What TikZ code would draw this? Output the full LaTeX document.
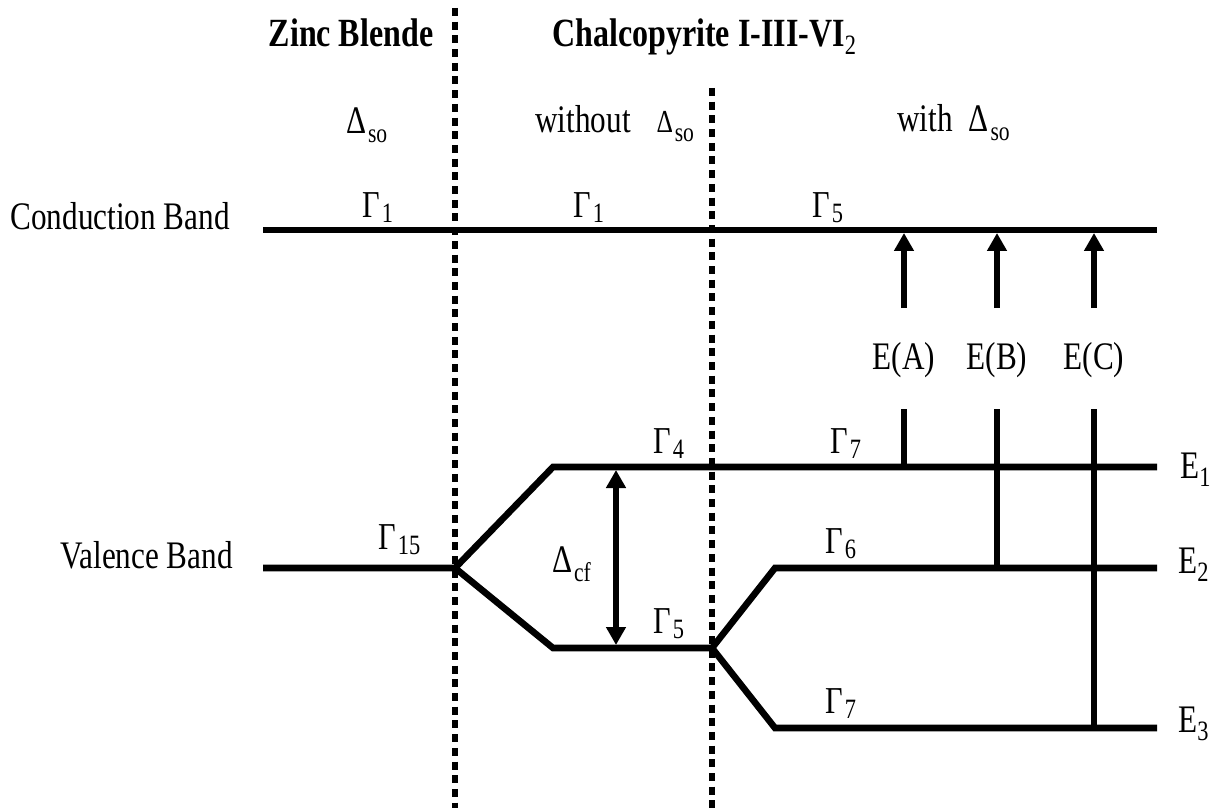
\documentclass[tikz,border=0pt]{standalone}
\usepackage{fontspec}
\setmainfont{Liberation Serif}[FakeStretch=0.80]
\usepackage{tikz}
\usetikzlibrary{arrows.meta}

% band labels
\newcommand{\glab}[1]{{\fontsize{19}{20}\selectfont Γ\kern1pt\raisebox{-2.5pt}{\fontsize{14}{16}\selectfont #1}}}
\newcommand{\dlab}[2][19.5]{{\fontsize{#1}{20}\selectfont Δ\kern0.8pt\raisebox{-4.5pt}{\fontsize{13.5}{15}\selectfont #2}}}

\begin{document}
\begin{tikzpicture}[x=0.5pt, y=-0.5pt, >={Triangle[length=9pt,width=9.5pt]},
    band/.style={line width=3.3pt, line cap=butt},
    guide/.style={line width=3.4pt, dash pattern=on 4pt off 2.85pt},
    txt/.style={anchor=base west, inner sep=0pt, font=\fontsize{19.5}{22}\selectfont},
    title/.style={txt, font=\fontsize{20}{22}\selectfont\bfseries}]
  \useasboundingbox (0,0) rectangle (1228,808);

  % separating lines
  \coordinate (d1t) at (455,8);   \coordinate (d1b) at (455,808);
  \coordinate (d2t) at (712,88);  \coordinate (d2b) at (712,808);
  \draw[guide] (d1t) -- (d1b);
  \draw[guide] (d2t) -- (d2b);

  % levels
  \coordinate (cbL) at (263,230); \coordinate (cbR) at (1157,230);
  \coordinate (vbL) at (263,568); \coordinate (z15) at (455,568);
  \coordinate (g4L) at (553,467); \coordinate (e1R) at (1157,467);
  \coordinate (g5L) at (553,648); \coordinate (g5R) at (712,648);
  \coordinate (g6L) at (775,568); \coordinate (e2R) at (1157,568);
  \coordinate (g7L) at (775,728); \coordinate (e3R) at (1157,728);
  \draw[band] (cbL) -- (cbR);
  \draw[band] (vbL) -- (z15) -- (g4L) -- (e1R);
  \draw[band] (z15) -- (g5L) -- (g5R) -- (g6L) -- (e2R);
  \draw[band] (g5R) -- (g7L) -- (e3R);

  % crystal field splitting
  \coordinate (cfT) at (616,470); \coordinate (cfB) at (616,645);
  \draw[band, <->] (cfT) -- (cfB);

  % transitions
  \foreach \n/\x/\y in {A/904/467, B/997/568, C/1094/728}{
    \coordinate (t\n) at (\x,308);
    \coordinate (h\n) at (\x,233);
    \coordinate (s\n) at (\x,409);
    \coordinate (b\n) at (\x,\y);
    \draw[band, ->] (t\n) -- (h\n);
    \draw[band] (s\n) -- (b\n);
    \node[txt, anchor=base] (l\n) at (\x,370) {E(\n)};
  }

  % headings
  \node[title, anchor=base] (zb) at (351,47) {Zinc Blende};
  \node[title] (cp) at (552,47) {Chalcopyrite I-III-VI\raisebox{-4pt}{\fontsize{14}{16}\selectfont\mdseries 2}};
  \node[txt] (so1) at (346,134) {\dlab{so}};
  \node[txt] (so2) at (535,133) {without\hspace{13pt}\dlab[16]{so}};
  \node[txt] (so3) at (897,132) {with\hspace{8pt}\dlab{so}};

  % band names
  \node[txt] (cb) at (10,229) {Conduction Band};
  \node[txt] (vb) at (60,568) {Valence Band};

  % symmetry labels
  \node[txt] (g1a) at (362,218) {\glab{1}};
  \node[txt] (g1b) at (573,218) {\glab{1}};
  \node[txt] (g5a) at (812,218) {\glab{5}};
  \node[txt] (g15) at (378,549) {\glab{15}};
  \node[txt] (g4)  at (653,453) {\glab{4}};
  \node[txt] (g5b) at (653,633) {\glab{5}};
  \node[txt] (g7a) at (830,453) {\glab{7}};
  \node[txt] (g6)  at (825,553) {\glab{6}};
  \node[txt] (g7b) at (825,713) {\glab{7}};
  \node[txt] (dcf) at (552,572) {\dlab{cf}};

  \node[txt] (e1) at (1180,478) {E\raisebox{-4pt}{\fontsize{14}{16}\selectfont 1}};
  \node[txt] (e2) at (1178,573) {E\raisebox{-4pt}{\fontsize{14}{16}\selectfont 2}};
  \node[txt] (e3) at (1178,732) {E\raisebox{-4pt}{\fontsize{14}{16}\selectfont 3}};
\end{tikzpicture}
\end{document}
